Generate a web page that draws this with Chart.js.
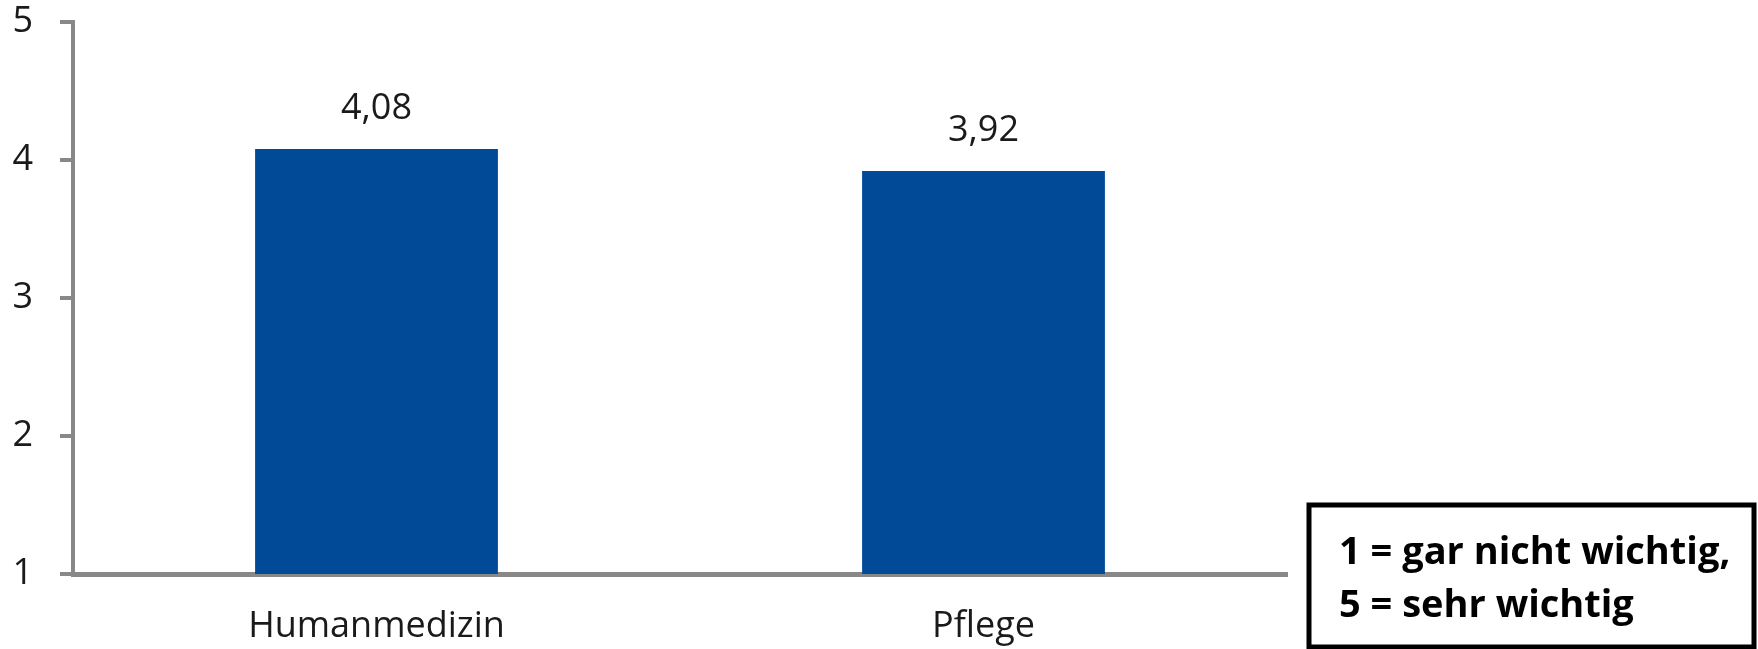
<!DOCTYPE html>
<html>
<head>
<meta charset="utf-8">
<script src="https://cdn.jsdelivr.net/npm/chart.js@4.4.0/dist/chart.umd.min.js"></script>
<style>
  html, body { margin: 0; padding: 0; background: #ffffff; }
  #wrap { width: 1758px; height: 649px; position: relative; }
</style>
</head>
<body>
<div id="wrap"><canvas id="c" width="1758" height="649"></canvas></div>
<script>
const categories = ["Humanmedizin", "Pflege"];
const meanValues = [4.08, 3.92];
const yTickValues = [1, 2, 3, 4, 5];
const noteLines = ["1 = gar nicht wichtig,", "5 = sehr wichtig"];

const FONT = "'Open Sans', 'Liberation Sans', sans-serif";
const AXIS_GRAY = "#888888";
const TEXT = "#1a1a1a";

const valueLabels = {
  id: 'valueLabels',
  afterDatasetsDraw(chart) {
    const ctx = chart.ctx;
    const meta = chart.getDatasetMeta(0);
    ctx.save();
    ctx.font = "36px " + FONT;
    ctx.fillStyle = TEXT;
    ctx.textAlign = 'center';
    ctx.textBaseline = 'alphabetic';
    meta.data.forEach((bar, i) => {
      const v = chart.data.datasets[0].data[i];
      ctx.fillText(v.toFixed(2).replace('.', ','), bar.x, bar.y - 30);
    });
    ctx.restore();
  }
};

const noteBox = {
  id: 'noteBox',
  afterDraw(chart) {
    const ctx = chart.ctx;
    ctx.save();
    ctx.strokeStyle = '#000000';
    ctx.lineWidth = 5;
    ctx.strokeRect(1309, 505, 445, 142);
    ctx.font = "bold 38px " + FONT;
    ctx.fillStyle = '#000000';
    ctx.textAlign = 'left';
    ctx.textBaseline = 'alphabetic';
    ctx.fillText(noteLines[0], 1339, 564);
    ctx.fillText(noteLines[1], 1339, 617);
    ctx.restore();
  }
};

new Chart(document.getElementById('c'), {
  type: 'bar',
  data: {
    labels: categories,
    datasets: [{
      data: meanValues,
      backgroundColor: '#004A98',
      borderWidth: 0,
      barPercentage: 0.4,
      categoryPercentage: 1.0
    }]
  },
  options: {
    responsive: false,
    animation: false,
    layout: { padding: { top: 22, right: 471, left: 0, bottom: 0 } },
    plugins: { legend: { display: false }, tooltip: { enabled: false } },
    scales: {
      x: {
        grid: { display: false, drawTicks: false },
        border: { display: true, color: AXIS_GRAY, width: 5 },
        ticks: { color: TEXT, font: { family: FONT, size: 36 }, padding: 31 },
        afterFit(scale) { scale.height = 75; }
      },
      y: {
        min: 1,
        max: 5,
        afterBuildTicks(scale) { scale.ticks = yTickValues.map(v => ({ value: v })); },
        grid: { drawOnChartArea: false, drawTicks: true, tickLength: 13, color: AXIS_GRAY, lineWidth: 4 },
        border: { display: true, color: AXIS_GRAY, width: 4 },
        ticks: { color: TEXT, font: { family: FONT, size: 36 }, padding: 27 },
        afterFit(scale) { scale.width = 73; scale.paddingTop = 0; scale.paddingBottom = 0; }
      }
    }
  },
  plugins: [valueLabels, noteBox]
});
</script>
</body>
</html>
